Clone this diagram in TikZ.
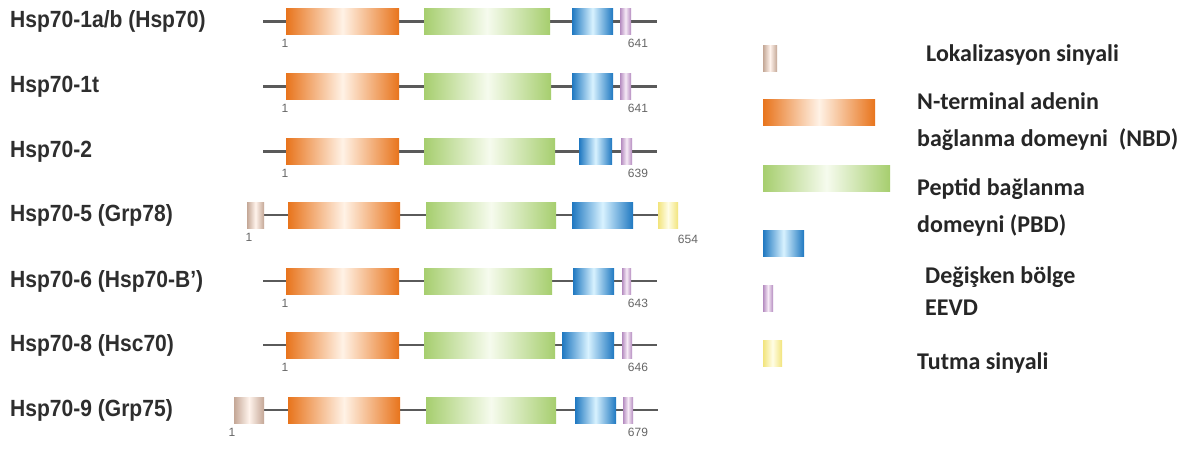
\documentclass[tikz,border=0pt]{standalone}
\usepackage{fontspec}
\setmainfont{Liberation Sans}
\newfontfamily\legfont{Carlito}
\usetikzlibrary{shadings}
\definecolor{orgE}{HTML}{E8741C}
\definecolor{orgC}{HTML}{FFF2E6}
\definecolor{grnE}{HTML}{A6CE6E}
\definecolor{grnC}{HTML}{F6FBEE}
\definecolor{bluE}{HTML}{1F78C1}
\definecolor{bluC}{HTML}{D8F2FF}
\definecolor{purE}{HTML}{B58CC0}
\definecolor{purC}{HTML}{F6EAF6}
\definecolor{locE}{HTML}{C4A796}
\definecolor{locC}{HTML}{FFF3EC}
\definecolor{yelE}{HTML}{F2E47C}
\definecolor{yelC}{HTML}{FFFDE6}
\definecolor{backbone}{HTML}{5A5A5A}
\definecolor{labtxt}{HTML}{2E2E2E}
\definecolor{numtxt}{HTML}{666666}
\newcommand\tallbox[1]{\scalebox{0.97}[1.08]{#1}}
\tikzset{
  dombox/.style={inner sep=0pt, minimum height=26pt},
  orangebox/.style={dombox, left color=orgE, right color=orgE, middle color=orgC},
  greenbox/.style={dombox, left color=grnE, right color=grnE, middle color=grnC},
  bluebox/.style={dombox, left color=bluE, right color=bluE, middle color=bluC},
  purplebox/.style={dombox, left color=purE, right color=purE, middle color=purC},
  locbox/.style={dombox, left color=locE, right color=locE, middle color=locC},
  yellowbox/.style={dombox, left color=yelE, right color=yelE, middle color=yelC},
  backline/.style={draw=backbone, line width=2.6pt},
  rowlabel/.style={anchor=west, inner sep=0pt, text=labtxt, font=\fontsize{21.7}{24}\selectfont\bfseries},
  numlabel/.style={inner sep=0pt, text=numtxt, font=\fontsize{12}{13}\selectfont},
  legtext/.style={anchor=west, inner sep=0pt, align=left, text=black!85, font=\legfont\fontsize{24}{37}\selectfont\bfseries},
}
% #1 style, #2 name, #3 x1, #4 x2, #5 y
\newcommand\dbox[5]{\node[#1, minimum width={(#4-#3)*1pt}] (#2) at ({(#3+#4)/2},#5) {};}
\begin{document}
\begin{tikzpicture}[x=1pt,y=-1pt]
\useasboundingbox (0,0) rectangle (1195,448);
\fill[white] (0,0) rectangle (1195,448);

% ---------- Row 1 ----------
\node[rowlabel] (l1) at (10,21.5) {\tallbox{Hsp70-1a/b (Hsp70)}};
\coordinate (s1) at (263,21.5); \coordinate (e1) at (657,21.5);
\draw[backline] (s1) -- (e1);
\dbox{orangebox}{o1}{286}{399}{21.5}
\dbox{greenbox}{g1}{424}{550}{21.5}
\dbox{bluebox}{b1}{572}{613}{21.5}
\dbox{purplebox}{p1}{620}{631}{21.5}
\node[numlabel] (n1a) at (285,43) {1};
\node[numlabel] (n1b) at (638,43) {641};

% ---------- Row 2 ----------
\node[rowlabel] (l2) at (10,86.5) {\tallbox{Hsp70-1t}};
\coordinate (s2) at (263,86.5); \coordinate (e2) at (657,86.5);
\draw[backline] (s2) -- (e2);
\dbox{orangebox}{o2}{286}{399}{86.5}
\dbox{greenbox}{g2}{424}{551}{86.5}
\dbox{bluebox}{b2}{572}{613}{86.5}
\dbox{purplebox}{p2}{620}{631}{86.5}
\node[numlabel] (n2a) at (285,108) {1};
\node[numlabel] (n2b) at (638,108) {641};

% ---------- Row 3 ----------
\node[rowlabel] (l3) at (10,151.5) {\tallbox{Hsp70-2}};
\coordinate (s3) at (263,151.5); \coordinate (e3) at (657,151.5);
\draw[backline] (s3) -- (e3);
\dbox{orangebox}{o3}{286}{399}{151.5}
\dbox{greenbox}{g3}{424}{555}{151.5}
\dbox{bluebox}{b3}{579}{612}{151.5}
\dbox{purplebox}{p3}{621}{632}{151.5}
\node[numlabel] (n3a) at (285,173) {1};
\node[numlabel] (n3b) at (638,173) {639};

% ---------- Row 4 ----------
\node[rowlabel] (l4) at (10,215) {\tallbox{Hsp70-5 (Grp78)}};
\coordinate (s4) at (260,215); \coordinate (e4) at (662,215);
\draw[backline] (s4) -- (e4);
\dbox{locbox}{c4}{247}{264}{215}
\dbox{orangebox}{o4}{288}{400}{215}
\dbox{greenbox}{g4}{426}{556}{215}
\dbox{bluebox}{b4}{572}{633}{215}
\dbox{yellowbox}{y4}{658}{678}{215}
\node[numlabel] (n4a) at (249,237) {1};
\node[numlabel] (n4b) at (688,239) {654};

% ---------- Row 5 ----------
\node[rowlabel] (l5) at (10,281) {\tallbox{Hsp70-6 (Hsp70-B')}};
\coordinate (s5) at (263,281); \coordinate (e5) at (657,281);
\draw[backline] (s5) -- (e5);
\dbox{orangebox}{o5}{286}{399}{281}
\dbox{greenbox}{g5}{424}{552}{281}
\dbox{bluebox}{b5}{573}{614}{281}
\dbox{purplebox}{p5}{622}{631}{281}
\node[numlabel] (n5a) at (285,303) {1};
\node[numlabel] (n5b) at (638,303) {643};

% ---------- Row 6 ----------
\node[rowlabel] (l6) at (10,345) {\tallbox{Hsp70-8 (Hsc70)}};
\coordinate (s6) at (263,345); \coordinate (e6) at (657,345);
\draw[backline] (s6) -- (e6);
\dbox{orangebox}{o6}{286}{399}{345}
\dbox{greenbox}{g6}{424}{555}{345}
\dbox{bluebox}{b6}{562}{614}{345}
\dbox{purplebox}{p6}{622}{632}{345}
\node[numlabel] (n6a) at (285,367) {1};
\node[numlabel] (n6b) at (638,367) {646};

% ---------- Row 7 ----------
\node[rowlabel] (l7) at (10,410) {\tallbox{Hsp70-9 (Grp75)}};
\coordinate (s7) at (260,410); \coordinate (e7) at (658,410);
\draw[backline] (s7) -- (e7);
\dbox{locbox}{c7}{234}{264}{410}
\dbox{orangebox}{o7}{288}{400}{410}
\dbox{greenbox}{g7}{426}{556}{410}
\dbox{bluebox}{b7}{575}{616}{410}
\dbox{purplebox}{p7}{623}{633}{410}
\node[numlabel] (n7a) at (232,432) {1};
\node[numlabel] (n7b) at (638,432) {679};

% ---------- Legend ----------
\dbox{locbox}{kl}{763}{777}{58}
\node[legtext] (tl) at (926,55) {Lokalizasyon sinyali};
\dbox{orangebox}{ko}{763}{875}{112.5}
\node[legtext] (to) at (917,122) {N-terminal adenin\\bağlanma domeyni~ (NBD)};
\dbox{greenbox}{kg}{763}{890}{178.5}
\node[legtext] (tg) at (917,207) {Peptid bağlanma\\domeyni (PBD)};
\dbox{bluebox}{kb}{763}{804}{243.5}
\node[legtext, font=\legfont\fontsize{24}{32}\selectfont\bfseries] (tb) at (925,291) {Değişken bölge\\EEVD};
\dbox{purplebox}{kp}{763}{773}{298.5}
\dbox{yellowbox}{ky}{763}{782}{353.5}
\node[legtext] (ty) at (917,363) {Tutma sinyali};
\end{tikzpicture}
\end{document}
